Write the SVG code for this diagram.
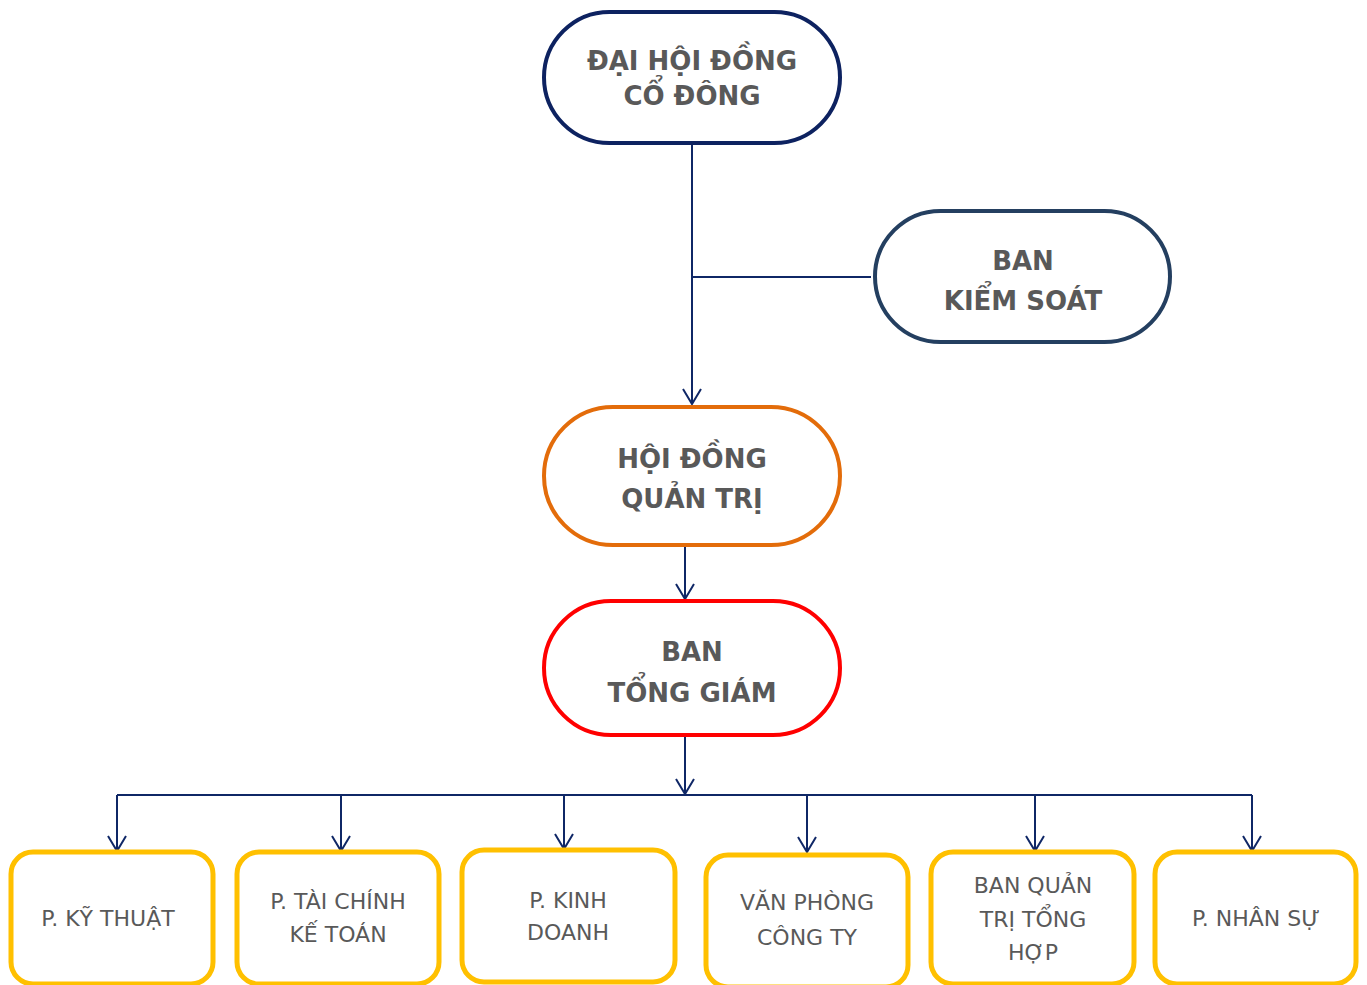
<svg xmlns="http://www.w3.org/2000/svg" width="1367" height="985" viewBox="0 0 1367 985">
<defs>
<marker id="arr" markerUnits="userSpaceOnUse" markerWidth="20" markerHeight="22" viewBox="-17 -11 20 22" refX="0" refY="0" orient="auto">
<path d="M-15,-9 L0,0 L-15,9" fill="none" stroke="#0F2766" stroke-width="2"/>
</marker>
<style>
.ln{fill:none;stroke:#0F2766;stroke-width:2}
.big{font-family:"DejaVu Sans","Verdana",sans-serif;font-weight:bold;font-size:26px;fill:#595959;text-anchor:middle}
.sm{font-family:"DejaVu Sans","Verdana",sans-serif;font-size:22px;fill:#595959;text-anchor:middle}
.box{fill:#fff;stroke:#FFC000;stroke-width:5}
</style>
</defs>
<rect width="1367" height="985" fill="#fff"/>
<g id="connectors">
<path class="ln" d="M692,143 V404" marker-end="url(#arr)"/>
<path class="ln" d="M692,277 H871"/>
<path class="ln" d="M685,545 V599" marker-end="url(#arr)"/>
<path class="ln" d="M685,735 V794" marker-end="url(#arr)"/>
<path class="ln" d="M117,795 H1252"/>
<path class="ln" d="M117,795 V851" marker-end="url(#arr)"/>
<path class="ln" d="M341,795 V851" marker-end="url(#arr)"/>
<path class="ln" d="M564,795 V849" marker-end="url(#arr)"/>
<path class="ln" d="M807,795 V852" marker-end="url(#arr)"/>
<path class="ln" d="M1035,795 V851" marker-end="url(#arr)"/>
<path class="ln" d="M1252,795 V851" marker-end="url(#arr)"/>
</g>
<g id="dhcd">
<rect x="544" y="12" width="296" height="131" rx="65.5" fill="#fff" stroke="#0D2260" stroke-width="4"/>
<text class="big" x="692" y="70">ĐẠI HỘI ĐỒNG</text>
<text class="big" x="692" y="105">CỔ ĐÔNG</text>
</g>
<g id="bks">
<rect x="875" y="211" width="295" height="131" rx="65.5" fill="#fff" stroke="#243F60" stroke-width="4"/>
<text class="big" x="1023" y="270">BAN</text>
<text class="big" x="1023" y="310">KIỂM SOÁT</text>
</g>
<g id="hdqt">
<rect x="544" y="407" width="296" height="138" rx="69" fill="#fff" stroke="#E36C0A" stroke-width="4"/>
<text class="big" x="692" y="468">HỘI ĐỒNG</text>
<text class="big" x="692" y="508">QUẢN TRỊ</text>
</g>
<g id="btg">
<rect x="544" y="601" width="296" height="134" rx="67" fill="#fff" stroke="#FF0000" stroke-width="4"/>
<text class="big" x="692" y="661">BAN</text>
<text class="big" x="692" y="702">TỔNG GIÁM</text>
</g>
<g id="pkt">
<rect class="box" x="11" y="852" width="202" height="132" rx="22"/>
<text class="sm" x="108" y="926">P. KỸ THUẬT</text>
</g>
<g id="ptckt">
<rect class="box" x="237" y="852" width="202" height="132" rx="22"/>
<text class="sm" x="338" y="909">P. TÀI CHÍNH</text>
<text class="sm" x="338" y="942">KẾ TOÁN</text>
</g>
<g id="pkd">
<rect class="box" x="462" y="850" width="213" height="132" rx="22"/>
<text class="sm" x="568" y="908">P. KINH</text>
<text class="sm" x="568" y="940">DOANH</text>
</g>
<g id="vpct">
<rect class="box" x="706" y="855" width="202" height="132" rx="22"/>
<text class="sm" x="807" y="910">VĂN PHÒNG</text>
<text class="sm" x="807" y="945">CÔNG TY</text>
</g>
<g id="bqtth">
<rect class="box" x="931" y="852" width="203" height="132" rx="22"/>
<text class="sm" x="1033" y="893">BAN QUẢN</text>
<text class="sm" x="1033" y="927">TRỊ TỔNG</text>
<text class="sm" x="1033" y="960">HỢP</text>
</g>
<g id="pns">
<rect class="box" x="1155" y="852" width="201" height="132" rx="22"/>
<text class="sm" x="1256" y="926">P. NHÂN SỰ</text>
</g>
</svg>
